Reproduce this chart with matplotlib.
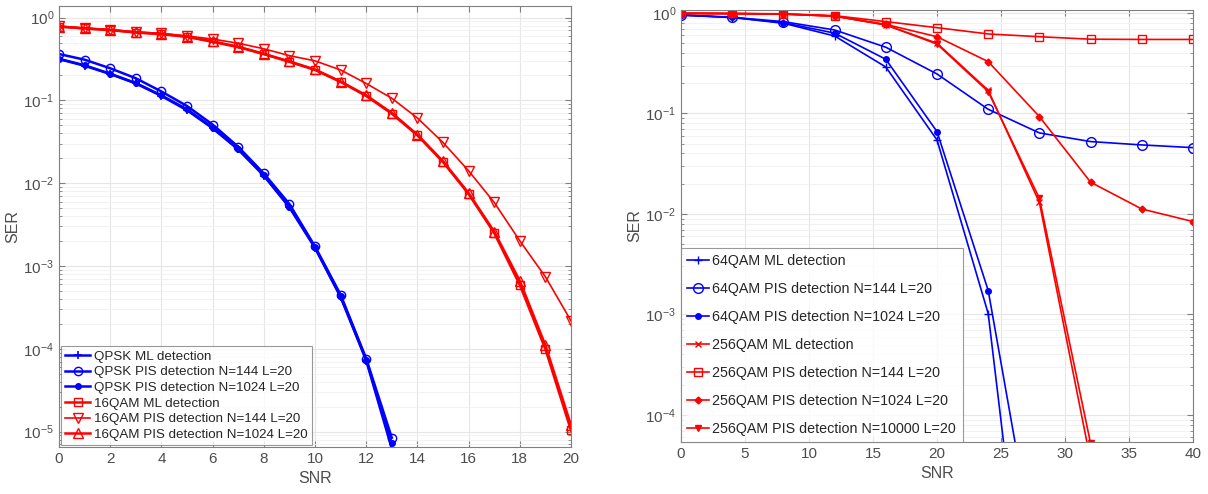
import numpy as np
import matplotlib
matplotlib.use("Agg")
import matplotlib.pyplot as plt
from matplotlib.ticker import LogLocator, FixedLocator, NullFormatter

plt.rcParams['font.family'] = ['Liberation Sans', 'DejaVu Sans']
plt.rcParams['mathtext.default'] = 'regular'

# ---------------- Left panel data ----------------
snr_qpsk = [0, 1, 2, 3, 4, 5, 6, 7, 8, 9, 10, 11, 12, 13]
qpsk_ml = [0.315, 0.262, 0.208, 0.16, 0.113, 0.076, 0.046, 0.0255, 0.0123, 0.0051,
           0.00165, 4.2e-4, 7.2e-5, 6.2e-6]
qpsk_pis144 = [0.363, 0.31, 0.244, 0.185, 0.128, 0.0855, 0.051, 0.0275, 0.0131, 0.0056,
               0.00172, 4.5e-4, 7.6e-5, 8.4e-6]
qpsk_pis1024 = [0.318, 0.265, 0.21, 0.162, 0.115, 0.078, 0.047, 0.026, 0.0125, 0.0052,
                0.00168, 4.3e-4, 7.4e-5, 7.2e-6]

snr_16 = list(range(0, 21))
qam16_ml = [0.78, 0.74, 0.705, 0.66, 0.63, 0.585, 0.51, 0.44, 0.362, 0.292, 0.233, 0.167,
            0.113, 0.069, 0.0378, 0.018, 0.0074, 0.0025, 5.9e-4, 9.9e-5, 1.03e-5]
qam16_pis144 = [0.785, 0.745, 0.715, 0.67, 0.645, 0.6, 0.55, 0.49, 0.42, 0.347, 0.30, 0.233,
                0.16, 0.106, 0.0612, 0.031, 0.0141, 0.00585, 0.00201, 7.4e-4, 2.17e-4]
qam16_pis1024 = [0.78, 0.74, 0.71, 0.665, 0.635, 0.59, 0.515, 0.445, 0.365, 0.296, 0.236,
                 0.169, 0.115, 0.0705, 0.0385, 0.0184, 0.0076, 0.0026, 6.6e-4, 1.1e-4, 1.19e-5]

left_labels = ["QPSK ML detection", "QPSK PIS detection N=144 L=20",
               "QPSK PIS detection N=1024 L=20", "16QAM ML detection",
               "16QAM PIS detection N=144 L=20", "16QAM PIS detection N=1024 L=20"]

# ---------------- Right panel data ----------------
snr_r = [0, 4, 8, 12, 16, 20, 24, 28, 32, 36, 40]
snr_64 = [0, 4, 8, 12, 16, 20, 24, 28]
qam64_ml = [0.95, 0.9, 0.79, 0.59, 0.29, 0.0545, 1.02e-3, 5.5e-8]
qam64_pis144 = [0.955, 0.905, 0.82, 0.677, 0.456, 0.247, 0.11, 0.064, 0.0525, 0.0486, 0.0457]
qam64_pis1024 = [0.955, 0.905, 0.80, 0.63, 0.346, 0.066, 1.73e-3, 2.3e-6]

snr_256 = [0, 4, 8, 12, 16, 20, 24, 28, 32]
qam256_ml = [0.99, 0.985, 0.975, 0.93, 0.76, 0.50, 0.17, 0.013, 3.5e-5]
qam256_pis144 = [0.995, 0.99, 0.98, 0.94, 0.82, 0.714, 0.618, 0.58, 0.548, 0.545, 0.545]
qam256_pis1024 = [0.99, 0.985, 0.975, 0.93, 0.77, 0.58, 0.328, 0.093, 0.0207, 0.0112, 0.0084]
qam256_pis10000 = [0.99, 0.985, 0.975, 0.93, 0.76, 0.49, 0.165, 0.0143, 5.2e-5]

right_labels = ["64QAM ML detection", "64QAM PIS detection N=144 L=20",
                "64QAM PIS detection N=1024 L=20", "256QAM ML detection",
                "256QAM PIS detection N=144 L=20", "256QAM PIS detection N=1024 L=20",
                "256QAM PIS detection N=10000 L=20"]

BLUE = (0, 0, 1)
RED = (1, 0, 0)
AX_C = '0.5'
TXT_C = '0.3'

fig = plt.figure(figsize=(12.08, 4.94), dpi=100)
axL = fig.add_axes([59/1208, 1-447/494, (571-59)/1208, (447-6)/494])
axR = fig.add_axes([681/1208, 1-442/494, (1193-681)/1208, (442-10)/494])


def style(ax):
    ax.set_yscale('log')
    ax.grid(True, which='major', color='0.9', linewidth=0.8)
    ax.grid(True, which='minor', axis='y', color='0.94', linewidth=0.6)
    ax.set_axisbelow(True)
    for s in ax.spines.values():
        s.set_color(AX_C)
        s.set_linewidth(0.8)
    ax.tick_params(which='both', direction='in', top=True, right=True,
                   colors=AX_C, labelcolor=TXT_C, labelsize=11)
    ax.tick_params(which='major', length=4)
    ax.tick_params(which='minor', length=2)
    ax.yaxis.set_major_locator(LogLocator(base=10, numticks=20))
    ax.yaxis.set_minor_locator(LogLocator(base=10, subs=np.arange(2, 10), numticks=20))
    ax.yaxis.set_minor_formatter(NullFormatter())
    ax.set_xlabel("SNR", color=TXT_C, fontsize=11.5, labelpad=4)
    ax.set_ylabel("SER", color=TXT_C, fontsize=11.5, labelpad=2)


# Left panel
lwL = 1.8
msL = 6
axL.plot(snr_qpsk, qpsk_ml, color=BLUE, marker='+', ms=msL, lw=lwL, mew=1.2, label=left_labels[0])
axL.plot(snr_qpsk, qpsk_pis144, color=BLUE, marker='o', ms=msL, lw=lwL, mfc='none', mew=1.0, label=left_labels[1])
axL.plot(snr_qpsk, qpsk_pis1024, color=BLUE, marker='o', ms=4, lw=lwL, mfc=BLUE, label=left_labels[2])
axL.plot(snr_16, qam16_ml, color=RED, marker='s', ms=msL, lw=lwL, mfc='none', mew=1.0, label=left_labels[3])
axL.plot(snr_16, qam16_pis144, color=RED, marker='v', ms=msL+1, lw=1.2, mfc='none', mew=1.0, label=left_labels[4])
axL.plot(snr_16, qam16_pis1024, color=RED, marker='^', ms=msL+1, lw=lwL, mfc='none', mew=1.0, label=left_labels[5])
style(axL)
axL.set_xlim(0, 20)
axL.set_ylim(6.5e-6, 1.38)
axL.xaxis.set_major_locator(FixedLocator(list(range(0, 21, 2))))
legL = axL.legend(loc='lower left', fontsize=9.6, frameon=True, fancybox=False,
                  handlelength=1.9, handletextpad=0.3, labelspacing=0.25,
                  borderpad=0.3, borderaxespad=0.15)
legL.get_frame().set_edgecolor('0.5')
legL.get_frame().set_linewidth(0.8)
for t in legL.get_texts():
    t.set_color('0.15')

# Right panel
lwR = 1.2
axR.plot(snr_64, qam64_ml, color=BLUE, marker='+', ms=6, lw=lwR, mew=1.0, label=right_labels[0])
axR.plot(snr_r, qam64_pis144, color=BLUE, marker='o', ms=7, lw=lwR, mfc='none', mew=1.0, label=right_labels[1])
axR.plot(snr_64, qam64_pis1024, color=BLUE, marker='o', ms=4, lw=lwR, mfc=BLUE, label=right_labels[2])
axR.plot(snr_256, qam256_ml, color=RED, marker='x', ms=4, lw=lwR, mew=1.0, label=right_labels[3])
axR.plot(snr_r, qam256_pis144, color=RED, marker='s', ms=6, lw=lwR, mfc='none', mew=1.0, label=right_labels[4])
axR.plot(snr_r, qam256_pis1024, color=RED, marker='D', ms=3.5, lw=lwR, mfc=RED, label=right_labels[5])
axR.plot(snr_256, qam256_pis10000, color=RED, marker='v', ms=4.5, lw=lwR, mfc=RED, label=right_labels[6])
style(axR)
axR.set_xlim(0, 40)
axR.set_ylim(5.38e-5, 1.07)
axR.xaxis.set_major_locator(FixedLocator(list(range(0, 41, 5))))
legR = axR.legend(loc='lower left', fontsize=10.3, frameon=True, fancybox=False,
                  handlelength=1.5, handletextpad=0.25, labelspacing=0.97,
                  borderpad=0.45, borderaxespad=0.0)
legR.get_frame().set_edgecolor('0.5')
legR.get_frame().set_linewidth(0.8)
for t in legR.get_texts():
    t.set_color('0.15')

fig.savefig("out.png", dpi=100)
